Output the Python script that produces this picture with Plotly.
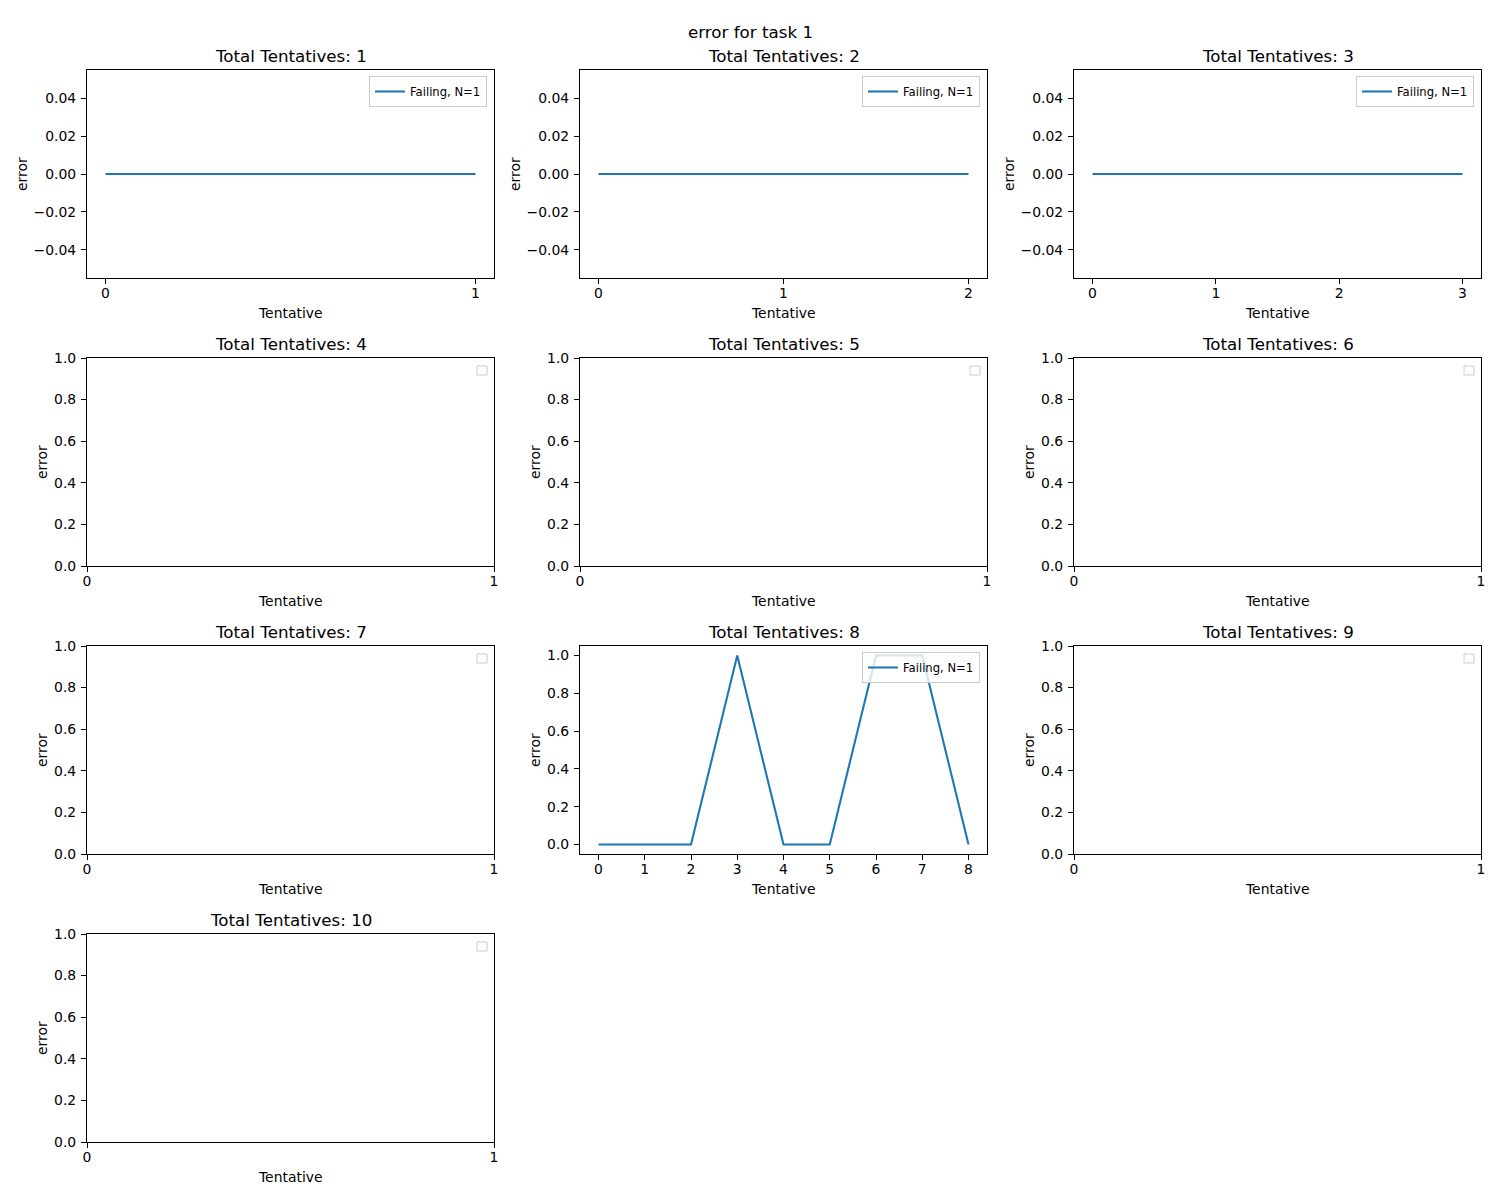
import plotly.graph_objects as go

# ---- data ----
totals = [1, 2, 3, 4, 5, 6, 7, 8, 9, 10]
series_label = "Failing, N=1"
x_t1 = [0, 1]
y_t1 = [0, 0]
x_t2 = [0, 1, 2]
y_t2 = [0, 0, 0]
x_t3 = [0, 1, 2, 3]
y_t3 = [0, 0, 0, 0]
x_t8 = [0, 1, 2, 3, 4, 5, 6, 7, 8]
y_t8 = [0, 0, 0, 1, 0, 0, 1, 1, 0]
panel_data = {1: (x_t1, y_t1), 2: (x_t2, y_t2), 3: (x_t3, y_t3), 8: (x_t8, y_t8)}

# ---- layout geometry (pixels) ----
W, H = 1500, 1200
cols = [(87, 494), (580, 987), (1074, 1481)]
rows = [(70, 278), (358, 566), (646, 854), (934, 1142)]
FONT = "DejaVu Sans"
BLUE = "#1f77b4"
TICK = 13.9
TITLE = 16.7

def px(v):
    return v / W

def py(v):
    return 1 - v / H

fig = go.Figure()
annotations = []
shapes = []
layout = {}

legend_count = 0
for i, t in enumerate(totals):
    r, c = divmod(i, 3)
    x0, x1 = cols[c]
    y0, y1 = rows[r]
    n = i + 1
    xa = "xaxis" if n == 1 else f"xaxis{n}"
    ya = "yaxis" if n == 1 else f"yaxis{n}"
    xref = "x" if n == 1 else f"x{n}"
    yref = "y" if n == 1 else f"y{n}"

    common = dict(showline=True, linecolor="black", linewidth=1.1, mirror=True,
                  ticks="outside", ticklen=5, tickwidth=1.1, tickcolor="black",
                  showgrid=False, zeroline=False, automargin=False,
                  tickfont=dict(family=FONT, size=TICK, color="black"))
    xcommon = dict(common, ticklabelstandoff=-3)
    ycommon = dict(common, ticklabelstandoff=2)

    if t in panel_data:
        xs, ys = panel_data[t]
        legend_count += 1
        lname = "legend" if legend_count == 1 else f"legend{legend_count}"
        fig.add_trace(go.Scatter(x=xs, y=ys, mode="lines", name=series_label,
                                 line=dict(color=BLUE, width=2.1),
                                 xaxis=xref, yaxis=yref, legend=lname,
                                 showlegend=True))
        xmax = max(xs)
        pad = 0.05 * xmax
        layout[xa] = dict(domain=[px(x0), px(x1)], anchor=yref,
                          range=[-pad, xmax + pad], tickvals=xs, **xcommon)
        if max(ys) == min(ys):
            layout[ya] = dict(domain=[py(y1), py(y0)], anchor=xref,
                              range=[-0.055, 0.055], tick0=-0.04, dtick=0.02,
                              tickformat=".2f", **ycommon)
        else:
            layout[ya] = dict(domain=[py(y1), py(y0)], anchor=xref,
                              range=[-0.05, 1.05], tick0=0, dtick=0.2,
                              tickformat=".1f", **ycommon)
        layout[lname] = dict(x=px(x1 - 7), y=py(y0 + 6), xanchor="right", yanchor="top",
                             bgcolor="rgba(255,255,255,0.8)", bordercolor="#cccccc",
                             borderwidth=1, font=dict(family=FONT, size=11.6, color="black"),
                             itemwidth=30, tracegroupgap=0)
    else:
        fig.add_trace(go.Scatter(x=[], y=[], mode="lines", xaxis=xref, yaxis=yref,
                                 showlegend=False))
        layout[xa] = dict(domain=[px(x0), px(x1)], anchor=yref, range=[0, 1],
                          tickvals=[0, 1], **xcommon)
        layout[ya] = dict(domain=[py(y1), py(y0)], anchor=xref, range=[0, 1],
                          tick0=0, dtick=0.2, tickformat=".1f", **ycommon)
        shapes.append(dict(type="rect", xref="paper", yref="paper",
                           x0=px(x1 - 17), x1=px(x1 - 7), y0=py(y0 + 17), y1=py(y0 + 8),
                           line=dict(color="#cccccc", width=1), fillcolor="white"))

    # subplot title
    annotations.append(dict(text=f"Total Tentatives: {t}", x=px((x0 + x1) / 2), y=py(y0 - 14),
                            xref="paper", yref="paper", xanchor="center", yanchor="middle",
                            showarrow=False, font=dict(family=FONT, size=TITLE, color="black")))
    # x label
    annotations.append(dict(text="Tentative", x=px((x0 + x1) / 2), y=py(y1 + 35),
                            xref="paper", yref="paper", xanchor="center", yanchor="middle",
                            showarrow=False, font=dict(family=FONT, size=TICK, color="black")))
    # y label
    ylab_x = x0 - 65 if t in (1, 2, 3) else x0 - 45
    annotations.append(dict(text="error", x=px(ylab_x), y=py((y0 + y1) / 2), textangle=-90,
                            xref="paper", yref="paper", xanchor="center", yanchor="middle",
                            showarrow=False, font=dict(family=FONT, size=TICK, color="black")))

annotations.append(dict(text="error for task 1", x=0.5, y=py(32), xref="paper", yref="paper",
                        xanchor="center", yanchor="middle", showarrow=False,
                        font=dict(family=FONT, size=TITLE, color="black")))

fig.update_layout(width=W, height=H, margin=dict(l=0, r=0, t=0, b=0, autoexpand=False),
                  paper_bgcolor="white", plot_bgcolor="white",
                  annotations=annotations, shapes=shapes,
                  font=dict(family=FONT, color="black"), **layout)

fig.write_html("out.html")
